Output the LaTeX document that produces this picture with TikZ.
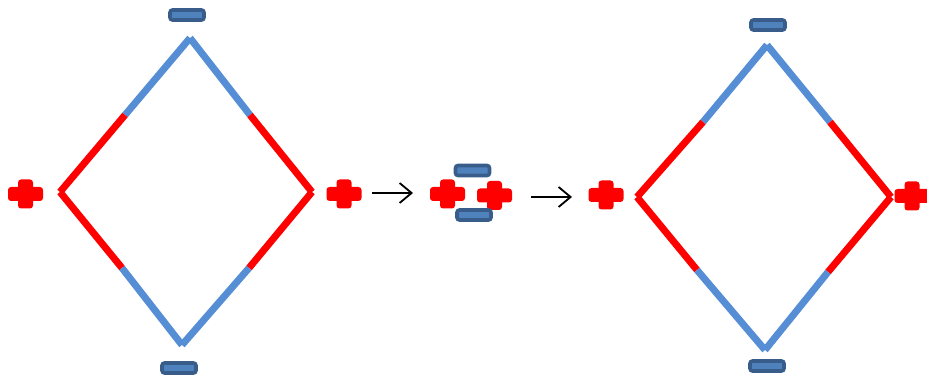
\documentclass[tikz,border=0pt]{standalone}
\usetikzlibrary{arrows.meta}
\definecolor{edgeblue}{HTML}{558ED5}
\definecolor{edgered}{HTML}{FF0000}
\definecolor{minusborder}{HTML}{385D8A}
\definecolor{minusfill}{HTML}{4F81BD}
\tikzset{
  plussign/.style={minimum width=35pt, minimum height=29pt, inner sep=0pt, outer sep=0pt,
    path picture={
      \fill[edgered, rounded corners=3pt] ([shift={(-17.5pt,-7pt)}]path picture bounding box.center) rectangle ([shift={(17.5pt,7pt)}]path picture bounding box.center);
      \fill[edgered, rounded corners=3pt] ([shift={(-7.5pt,-14.5pt)}]path picture bounding box.center) rectangle ([shift={(7.5pt,14.5pt)}]path picture bounding box.center);
    }},
  minussign/.style={draw=minusborder, fill=minusfill, line width=3.6pt, rounded corners=2.5pt,
    minimum width=34pt, minimum height=10pt, inner sep=0pt},
  blueedge/.style={draw=edgeblue, line width=7pt},
  rededge/.style={draw=edgered, line width=7pt},
  reaction/.style={draw=black, line width=1.8pt, -{Straight Barb[length=12pt,width=20pt,line width=1.8pt]}}
}
\begin{document}
\begin{tikzpicture}[x=1pt,y=-1pt]
\useasboundingbox (0,0) rectangle (927,377);
\clip (0,0) rectangle (927,377);
% ---------- left diamond ----------
\coordinate (LT) at (190,38);
\coordinate (LL) at (60,192);
\coordinate (LR) at (312,192);
\coordinate (LB) at (182,345);
\coordinate (LTLm) at (125,115);
\coordinate (LTRm) at (250,115);
\coordinate (LBRm) at (249,268);
\coordinate (LBLm) at (122,268);
\draw[blueedge] (LT) -- (LTLm);
\draw[rededge] (LTLm) -- (LL);
\draw[blueedge] (LT) -- (LTRm);
\draw[rededge] (LTRm) -- (LR);
\draw[rededge] (LR) -- (LBRm);
\draw[blueedge] (LBRm) -- (LB);
\draw[rededge] (LL) -- (LBLm);
\draw[blueedge] (LBLm) -- (LB);
\node[minussign] (m1) at (187,15) {};
\node[minussign] (m2) at (179,368) {};
\node[plussign] (p1) at (25.5,194) {};
\node[plussign] (p2) at (344,194) {};
% ---------- arrow 1 ----------
\coordinate (a1s) at (372,193);
\coordinate (a1e) at (413,193);
\draw[reaction] (a1s) -- (a1e);
% ---------- middle group ----------
\node[plussign] (p3) at (447.5,194) {};
\node[plussign] (p4) at (494.5,195.5) {};
\node[minussign] (m3) at (472.5,170.5) {};
\node[minussign] (m4) at (474,215) {};
% ---------- arrow 2 ----------
\coordinate (a2s) at (531,197);
\coordinate (a2e) at (572,197);
\draw[reaction] (a2s) -- (a2e);
% ---------- right diamond ----------
\coordinate (RT) at (767,45);
\coordinate (RL) at (637,197);
\coordinate (RR) at (891,197);
\coordinate (RB) at (765,350);
\coordinate (RTLm) at (703,122);
\coordinate (RTRm) at (830,122);
\coordinate (RBRm) at (828,272);
\coordinate (RBLm) at (697,270);
\draw[blueedge] (RT) -- (RTLm);
\draw[rededge] (RTLm) -- (RL);
\draw[blueedge] (RT) -- (RTRm);
\draw[rededge] (RTRm) -- (RR);
\draw[rededge] (RR) -- (RBRm);
\draw[blueedge] (RBRm) -- (RB);
\draw[rededge] (RL) -- (RBLm);
\draw[blueedge] (RBLm) -- (RB);
\node[minussign] (m5) at (768,25) {};
\node[minussign] (m6) at (767,366) {};
\node[plussign] (p5) at (606,195) {};
\node[plussign] (p6) at (912,196) {};
\end{tikzpicture}
\end{document}
